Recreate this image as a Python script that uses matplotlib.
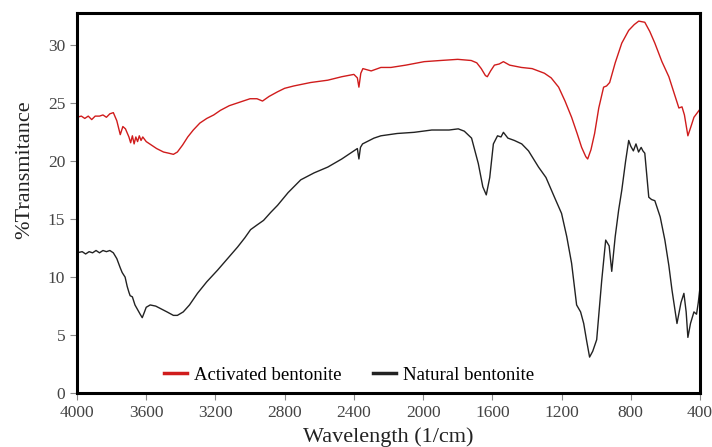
#%%
import matplotlib.pyplot as plt
import numpy as np

plt.rcParams['font.family'] = ['Liberation Serif', 'DejaVu Serif']

#%% Datos leidos del espectro FTIR
# Activated bentonite
x_act = [4000, 3975, 3955, 3935, 3915, 3895, 3870, 3850, 3830, 3810, 3790, 3770, 3750,
         3735, 3720, 3700, 3690, 3680, 3670, 3660, 3650, 3640, 3630, 3620, 3600, 3580,
         3540, 3500, 3470, 3443, 3420, 3390, 3360, 3328, 3290, 3250, 3210, 3171, 3120,
         3080, 3040, 3000, 2960, 2928, 2890, 2841, 2800, 2748, 2650, 2551, 2470, 2400,
         2380, 2371, 2360, 2348, 2300, 2244, 2186, 2100, 1994, 1900, 1800, 1722, 1690,
         1664, 1640, 1629, 1610, 1588, 1560, 1536, 1500, 1432, 1370, 1299, 1260, 1217,
         1180, 1142, 1110, 1084, 1060, 1049, 1030, 1009, 985, 957, 940, 922, 890, 852,
         812, 780, 754, 719, 690, 661, 620, 580, 550, 522, 504, 490, 470, 450, 435, 400]
y_act = [23.8, 23.9, 23.7, 23.9, 23.6, 23.9, 23.9, 24.0, 23.8, 24.1, 24.2, 23.5, 22.3,
         23.0, 22.8, 22.1, 21.6, 22.2, 21.5, 22.1, 21.7, 22.2, 21.8, 22.1, 21.7, 21.5,
         21.1, 20.8, 20.7, 20.6, 20.8, 21.4, 22.1, 22.7, 23.3, 23.7, 24.0, 24.4, 24.8,
         25.0, 25.2, 25.4, 25.4, 25.2, 25.6, 26.0, 26.3, 26.5, 26.8, 27.0, 27.3, 27.5,
         27.2, 26.4, 27.6, 28.0, 27.8, 28.1, 28.1, 28.3, 28.6, 28.7, 28.8, 28.7, 28.5,
         28.0, 27.4, 27.3, 27.8, 28.3, 28.4, 28.6, 28.3, 28.1, 28.0, 27.6, 27.2, 26.4,
         25.2, 23.8, 22.4, 21.2, 20.4, 20.2, 21.0, 22.4, 24.6, 26.4, 26.5, 26.8, 28.5,
         30.2, 31.3, 31.8, 32.1, 32.0, 31.2, 30.2, 28.6, 27.3, 25.9, 24.6, 24.7, 24.0,
         22.2, 23.1, 23.8, 24.5]

# Natural bentonite
x_nat = [4000, 3970, 3950, 3930, 3910, 3890, 3870, 3850, 3830, 3810, 3790, 3770, 3750,
         3739, 3722, 3710, 3700, 3693, 3680, 3665, 3650, 3635, 3623, 3610, 3600, 3577,
         3545, 3519, 3480, 3443, 3420, 3386, 3350, 3304, 3250, 3188, 3130, 3072, 3030,
         2997, 2960, 2922, 2880, 2841, 2780, 2707, 2630, 2551, 2470, 2400, 2380, 2371,
         2362, 2350, 2284, 2244, 2150, 2052, 1950, 1850, 1797, 1762, 1720, 1681, 1655,
         1635, 1615, 1594, 1570, 1550, 1536, 1510, 1473, 1430, 1391, 1333, 1290, 1241,
         1200, 1170, 1142, 1113, 1090, 1072, 1055, 1038, 1020, 997, 968, 945, 925, 910,
         890, 870, 852, 830, 812, 800, 785, 770, 755, 740, 730, 719, 696, 680, 661, 630,
         603, 580, 562, 533, 510, 493, 480, 470, 455, 435, 420, 410, 400]
y_nat = [12.1, 12.2, 12.0, 12.2, 12.1, 12.3, 12.1, 12.3, 12.2, 12.3, 12.1, 11.6, 10.8,
         10.4, 10.0, 9.2, 8.7, 8.4, 8.3, 7.6, 7.2, 6.8, 6.5, 7.0, 7.4, 7.6, 7.5, 7.3,
         7.0, 6.7, 6.7, 7.0, 7.6, 8.6, 9.6, 10.6, 11.6, 12.6, 13.4, 14.1, 14.5, 14.9,
         15.6, 16.2, 17.3, 18.4, 19.0, 19.5, 20.2, 20.9, 21.1, 20.2, 21.2, 21.5, 22.0,
         22.2, 22.4, 22.5, 22.7, 22.7, 22.8, 22.6, 22.0, 19.8, 17.8, 17.1, 18.6, 21.5,
         22.2, 22.1, 22.5, 22.0, 21.8, 21.5, 20.9, 19.5, 18.6, 16.9, 15.5, 13.5, 11.2,
         7.6, 7.0, 6.0, 4.5, 3.1, 3.6, 4.6, 9.7, 13.2, 12.7, 10.5, 13.5, 15.8, 17.5,
         20.0, 21.8, 21.3, 20.9, 21.5, 20.8, 21.2, 20.9, 20.7, 16.9, 16.7, 16.6, 15.2,
         13.2, 11.0, 8.9, 6.0, 7.8, 8.6, 7.0, 4.8, 6.0, 7.0, 6.8, 7.8, 9.1]

# %%
f = plt.figure(figsize=(7.12, 4.47), dpi=100)
ax = f.add_axes([77/712, 54/447, 623/712, 380/447])
ax.plot(x_act, y_act, color="#d01c1c", lw=1.0, label="Activated bentonite")
ax.plot(x_nat, y_nat, color="#222222", lw=1.0, label="Natural bentonite")

ax.set_xlim(4000, 400)
ax.set_ylim(0, 32.8)
ax.set_xticks(np.arange(4000, 399, -400))
ax.set_yticks(np.arange(0, 31, 5))
ax.tick_params(labelsize=12.5, direction="out", length=5, width=0.8,
               colors="#888888", labelcolor="#444444")
for s in ax.spines.values():
    s.set_linewidth(2.2)
ax.set_xlabel("Wavelength (1/cm)", fontsize=16, labelpad=4.5, color="#222222")
ax.set_ylabel("%Transmitance", fontsize=16, color="#222222")
ax.yaxis.set_label_coords(-0.068, 0.587)
leg = ax.legend(loc="center", ncol=2, frameon=False, fontsize=13.5,
                handlelength=1.2, handletextpad=0.4, columnspacing=1.7,
                bbox_to_anchor=(0.437, 0.047))
for h in leg.get_lines():
    h.set_linewidth(2.5)
f.savefig("out.png", dpi=100)
